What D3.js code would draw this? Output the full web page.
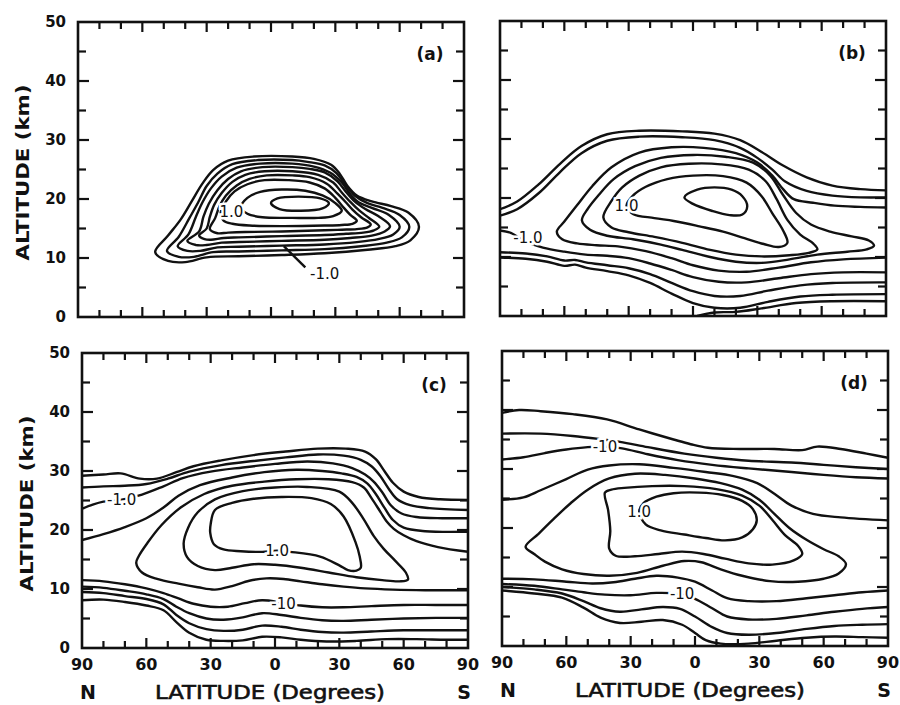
<!DOCTYPE html>
<html>
<head>
<meta charset="utf-8">
<script src="https://cdn.jsdelivr.net/npm/d3@7"></script>
<style>
  body { margin: 0; background: #fff; }
  text { font-family: "DejaVu Sans", sans-serif; font-weight: bold; fill: #111; }
</style>
</head>
<body>
<div id="chart"></div>
<script>
// axis values
const latTickLabels = [90, 60, 30, 0, -30, -60, -90];
const altTickLabels = [0, 10, 20, 30, 40, 50];
const panelNames = ["(a)", "(b)", "(c)", "(d)"];

// contours, points are [latitude (N > 0), altitude km]
// panel (a): nested closed loops
const aClosed = [
  [[54,11],[48,9.5],[40,9.3],[30,10.1],[15,10.3],[-5,10.5],[-25,10.8],[-45,11.4],[-58,12],[-65,13],[-69,15.3],[-64,17.7],[-56,18.8],[-47,19.6],[-40,20.6],[-35.5,22.3],[-32,24.3],[-28,25.8],[-20,26.8],[-10,27.2],[8,27.2],[20,26.5],[27,24.9],[32,22.6],[37,19.6],[42,16.6],[48,13.8]],
  [[48.5,11.2],[43,10.2],[36,10.2],[27,11],[15,11.1],[-5,11.3],[-25,11.5],[-42,12],[-54,12.6],[-61,13.5],[-64.5,15.3],[-60,17.3],[-52,18.5],[-45,19.3],[-39,20.6],[-34.5,22.5],[-30.5,24.4],[-25,25.7],[-17,26.3],[-10,26.6],[6,26.6],[18,25.9],[25,24.3],[30,22.2],[34,19.4],[38,16.8],[43,13.6]],
  [[43.5,12],[39,11.2],[33,11.2],[25,11.8],[15,11.9],[-5,12.1],[-25,12.3],[-40,12.7],[-50,13.2],[-57,14],[-60,15.3],[-55,17.3],[-47,18.5],[-41,19.4],[-37,20.8],[-33,22.8],[-27.5,24.5],[-20,25.5],[-10,26],[5,26],[16,25.3],[23,23.8],[28,21.8],[32,19.4],[35,17],[38.5,14]],
  [[39,12.9],[35,12.2],[30,12.2],[23,12.6],[15,12.7],[-5,12.9],[-25,13.1],[-37,13.4],[-47,13.8],[-53,14.5],[-55.5,15.4],[-50,17.1],[-44,18.3],[-39,19.6],[-35,21.2],[-31,23],[-25,24.5],[-18,25.1],[-10,25.4],[4,25.4],[14,24.7],[20,23.4],[25,21.5],[29,19.2],[31.5,17],[33.5,14.5]],
  [[33.5,13.8],[31,13.2],[28,13.1],[22,13.4],[15,13.5],[-5,13.7],[-25,13.9],[-35,14.1],[-43,14.3],[-48,14.7],[-50.5,15.3],[-46,16.7],[-41,18.1],[-37,19.5],[-33,21.1],[-29,22.8],[-22,24.1],[-10,24.7],[3,24.7],[12,24.1],[18,22.9],[23,21],[26.5,19],[28.5,17],[30,15]],
  [[28.5,14.9],[25,14.2],[20,14.3],[12,14.4],[-5,14.5],[-25,14.7],[-33,14.8],[-40,14.9],[-45,15.2],[-46.5,15.7],[-42,16.9],[-38,18.2],[-35,19.4],[-31,20.9],[-26,22.6],[-18,23.7],[-10,24],[2,24],[10,23.4],[16,22.3],[21,20.6],[24,18.8],[26,16.8]],
  [[23.5,17.6],[22,16.3],[18,15.8],[10,15.5],[-5,15.4],[-25,15.5],[-33,15.6],[-38,15.8],[-40,16.3],[-37,17.3],[-34,18.5],[-30,20.2],[-25,21.8],[-18,22.8],[-8,23.2],[3,23.2],[11,22.5],[17,21.3],[21,19.6]],
  [[14,18.6],[11,17.5],[4,16.9],[-10,16.8],[-22,16.8],[-29,17.1],[-33,18],[-30,19.3],[-24,20.6],[-16,21.4],[-5,21.6],[5,21.2],[11,20.2]],
  [[0,19.3],[-3,20.1],[-13,20.4],[-23,20.1],[-27,19.3],[-24,18.4],[-14,18],[-4,18.3]]
];
const aOpen = [];
const aLabels = [{t:"1.0", at:[18.5,17.8]}, {t:"-1.0", at:[-25,7.4]}];
const aLeaders = [[[-16,8.4],[-6,12]]];

// panel (b)
const bOpen = [
  [[90,18.1],[82,19.4],[72,22.3],[62,25.8],[52,28.8],[40,30.8],[25,31.4],[5,31.3],[-10,30.9],[-22,29.8],[-32,27.8],[-42,25.5],[-53,23.5],[-65,22.1],[-78,21.5],[-90,21.3]],
  [[90,17],[82,18.1],[72,20.8],[62,24.4],[52,27.6],[40,29.7],[25,30.4],[5,30.3],[-10,29.8],[-22,28.5],[-30,26.8],[-37,24.8],[-43,22.8],[-53,21.2],[-65,20.4],[-78,20.1],[-90,20.1]],
  [[-90,18.4],[-78,18.5],[-66,18.7],[-56,19.2],[-47,19.8],[-42,21.5],[-37,23.8],[-30,26],[-20,27.6],[-5,28.5],[10,28.6],[25,27.7],[38,25.2],[47,22],[54,18.8],[60,16],[63.5,14.3],[61,13],[54,12.3],[45,12],[35,11.8],[22,11],[10,9.8],[0,8.6],[-12,7.7],[-25,7.5],[-40,8.2],[-55,9.1],[-70,9.6],[-90,9.9]],
  [[90,14.5],[85,14.1],[78,12.6],[70,11.6],[60,10.9],[50,10.4],[40,10.2],[30,9.8],[20,8.9],[10,7.8],[0,6.6],[-12,5.8],[-25,5.7],[-40,6.4],[-55,7.1],[-70,7.4],[-90,7.4]],
  [[90,10.8],[78,10.6],[68,10.1],[60,9.4],[55,9.5],[50,9.1],[40,8.6],[30,8.1],[20,7.1],[10,5.6],[0,4.2],[-10,3.4],[-22,3.4],[-35,4.3],[-50,5.2],[-65,5.6],[-90,5.7]],
  [[90,9.9],[78,9.7],[68,9.2],[60,8.5],[55,8.7],[50,8.2],[40,7.6],[30,6.9],[20,5.6],[10,3.8],[0,2.2],[-10,1.4],[-22,1.4],[-35,2.4],[-50,3.3],[-65,3.6],[-90,3.7]],
  [[-2,0],[-10,0.6],[-20,0.7],[-32,1.3],[-48,2.2],[-65,2.5],[-90,2.5]]
];
const bClosed = [
  [[51.8,16.2],[48,14.6],[40,13.6],[28,13],[15,12.1],[5,11.2],[-8,10],[-20,9.2],[-32,9],[-45,9.6],[-58,10.4],[-72,10.9],[-81,11.3],[-84.4,11.9],[-82,12.8],[-74,13.5],[-64,14.3],[-55,15.5],[-48,17.5],[-42,20.5],[-36,23.8],[-28,26],[-15,27],[0,27.3],[15,26.8],[27,25.4],[37,23.2],[44,20.5],[49,18.2]],
  [[41.8,16.7],[38,15],[30,14.2],[18,13.4],[5,12.4],[-8,11.2],[-20,10.4],[-32,10.1],[-45,10.3],[-54,10.7],[-58,11.3],[-56,12.3],[-50,13.8],[-44,16.3],[-39,19.8],[-34,22.8],[-26,24.8],[-13,25.7],[2,25.8],[15,25.2],[25,23.8],[33,21.8],[38,19.5]],
  [[31,18.7],[28,17.3],[18,16.6],[9,16.1],[-3,15.2],[-14,14.3],[-24,13.2],[-33,12.2],[-40,11.7],[-44,12.4],[-42,14.5],[-37,17.4],[-32,20.3],[-25,22.6],[-14,23.7],[0,23.8],[12,23.2],[22,21.9],[28,20.4]],
  [[4,20.1],[-2,21.4],[-10,21.8],[-18,21.4],[-23,20.3],[-25.3,18.6],[-23,17.2],[-17,17.1],[-9,17.8],[0,19]]
];
const bLabels = [{t:"1.0", at:[31,18.7]}, {t:"-1.0", at:[77,13.3]}];
const bLeaders = [];

// panel (c)
const cOpen = [
  [[90,29.2],[80,29.4],[72,29.6],[63,28.7],[55,28.7],[46,29.8],[38,30.8],[25,31.8],[10,32.7],[-5,33.3],[-20,33.8],[-33,33.8],[-42,33.3],[-47,32],[-51,30],[-55,28],[-60,26.5],[-67,25.6],[-77,25.2],[-90,25.1]],
  [[90,27.2],[80,27.4],[70,27.5],[60,27.8],[50,28.7],[40,29.9],[25,31],[10,31.7],[-5,32.3],[-20,32.8],[-32,32.6],[-40,31.9],[-45,30.8],[-49,29.2],[-53,27],[-57,25.2],[-63,24.2],[-72,23.7],[-90,23.4]],
  [[90,23.6],[85,24.3],[80,24.8],[72,25.1],[62,26],[52,27.4],[43,28.8],[30,29.9],[15,30.6],[0,31.2],[-15,31.6],[-27,31.3],[-36,30.5],[-42,29.4],[-46,28.2],[-50,26.4],[-54,24.2],[-59,22.8],[-66,22.2],[-78,22],[-90,22]],
  [[90,18.3],[80,19.3],[70,20.5],[60,22],[52,23.8],[45,25.8],[35,27.6],[20,28.9],[5,29.8],[-10,30.2],[-22,30],[-31,29.6],[-38,29],[-43,27.9],[-47,26.1],[-51,23.8],[-55,21.7],[-60,20.4],[-70,19.8],[-90,19.7]],
  [[-90,16.3],[-76,17.1],[-66,18.1],[-60,19.1],[-55.4,20.2],[-52,21.5],[-49.3,23],[-45,25.4],[-41.4,27.2],[-36,28.1],[-25,28.6],[-10,28.6],[5,28.2],[20,27.5],[33,26.1],[44,23.8],[53,20.8],[59.5,17.8],[63.5,15.6],[64.7,14.4],[62,12.8],[55,11.7],[45,10.9],[36,10.3],[28,9.9],[20,10.5],[12,11.4],[4,11.8],[-4,11.7],[-12,11.3],[-22,10.8],[-32,10.4],[-42,10.1],[-55,9.9],[-70,9.8],[-90,9.8]],
  [[90,11.5],[80,11.3],[70,10.8],[60,10.1],[52,9.3],[45,8.4],[38,7.5],[30,7],[22,7],[14,7.6],[6,8.1],[-3,7.7],[-12,7.2],[-22,6.9],[-32,6.9],[-45,7.1],[-60,7.3],[-75,7.3],[-90,7.3]],
  [[90,10.4],[80,10.2],[70,9.7],[60,9.1],[52,8.3],[46,7],[40,5.9],[32,5],[24,4.8],[15,5.2],[6,5.9],[-3,5.6],[-12,5.1],[-22,4.7],[-32,4.6],[-45,4.8],[-60,5],[-75,5.1],[-90,5.1]],
  [[90,9.5],[80,9.3],[70,8.8],[60,8.3],[52,7.4],[46,5.6],[40,4.2],[32,3.2],[24,2.9],[15,3.1],[6,3.8],[-3,3.6],[-12,3.1],[-22,2.7],[-32,2.6],[-45,2.8],[-60,3],[-75,3],[-90,3]],
  [[90,8.1],[80,8.2],[70,7.8],[60,7.2],[52,6.4],[46,4.4],[40,2.6],[32,1.4],[24,1.2],[15,1.3],[6,1.9],[-3,1.8],[-12,1.4],[-24,1.1],[-38,1.2],[-52,1.5],[-66,1.5],[-80,1.4],[-90,1.4]]
];
const cClosed = [
  [[42.6,17.7],[41,15.4],[36,13.9],[28,13.2],[20,13.6],[10,14.2],[0,14.1],[-12,13.6],[-25,12.8],[-38,12],[-50,11.5],[-58,11.3],[-62,11.6],[-61,12.8],[-56,14.8],[-50.7,16.8],[-46,19],[-41.4,21.8],[-36,24.6],[-30,26.5],[-15,27.3],[0,27.2],[15,26.6],[28,25.2],[36,23],[40.5,20.4]],
  [[28,23.4],[30,21],[30.2,19.5],[28.5,17.6],[24,16.7],[16,16.4],[6,16.3],[-1,16.5],[-7,16.3],[-21,15.5],[-30,14],[-34,13.2],[-38,13.1],[-40,13.6],[-39.5,15.5],[-37.5,18],[-32,22.3],[-26,24.4],[-17,25.4],[-3,25.6],[10,25.3],[20,24.6]]
];
const cLabels = [{t:"-1.0", at:[71.5,25.1]}, {t:"1.0", at:[-1,16.5]}, {t:"-10", at:[-4,7.6]}];
const cLeaders = [];

// panel (d)
const dOpen = [
  [[90,39.5],[82,40],[72,39.8],[57,39.3],[41,38.4],[26,36.7],[10,35],[2,34.2],[-6,33.6],[-21,33.4],[-37,33.4],[-50,33.2],[-57,33.8],[-68,33.4],[-80,32.6],[-90,31.9]],
  [[90,36],[72,36],[57,35.6],[45,35.1],[35,34.6],[22,33.7],[5,32.6],[-10,31.9],[-25,31.4],[-45,31.1],[-60,30.7],[-75,30.3],[-90,30]],
  [[90,31.6],[80,32],[70,32.7],[60,33.3],[50,33.7],[42,33.8],[34,33.5],[22,32.5],[8,31.5],[-8,30.7],[-25,30.1],[-45,29.5],[-60,29],[-75,28.6],[-90,28.4]],
  [[90,24.8],[80,25.2],[72,26.4],[60,28.3],[50,29.9],[40,30.6],[26,30.8],[10,30.2],[-5,29.5],[-18,28.8],[-29,27.6],[-37,25.8],[-45,23.8],[-55,22.4],[-68,21.8],[-90,21.3]],
  [[90,11.4],[75,11.3],[60,10.9],[48,10.6],[38,10.8],[28,11.4],[18,11.9],[8,11.6],[0,10.9],[-8,9.4],[-15,8.1],[-25,7.6],[-38,7.6],[-52,8.1],[-65,8.6],[-78,9.1],[-90,9.4]],
  [[90,10.5],[75,10.2],[62,9.6],[52,9.1],[42,8.7],[30,8.6],[18,9],[7,8.8],[0,8],[-8,6.4],[-15,5],[-25,4.5],[-38,4.6],[-52,5.2],[-65,5.8],[-78,6.3],[-90,6.6]],
  [[90,10],[75,9.6],[62,8.9],[52,7.6],[44,6.4],[35,5.8],[25,6.2],[15,6.6],[7,6.3],[0,5],[-8,3.2],[-15,2.2],[-25,1.9],[-38,2.2],[-52,2.9],[-65,3.4],[-78,3.6],[-90,3.7]],
  [[90,9.4],[75,8.9],[62,8.2],[52,6.5],[44,4.8],[35,3.9],[25,4.1],[15,4.4],[6,3.6],[0,2.2],[-5,1],[-12,0.4],[-25,0.4],[-38,0.9],[-52,1.4],[-65,1.6],[-78,1.5],[-90,1.4]]
];
const dClosed = [
  [[79,16.8],[73,19],[66,21.5],[58,24.2],[50,26.5],[40,28.4],[28,29.2],[14,29],[0,28.4],[-12,27.6],[-22,26.5],[-30,24.8],[-37,22.4],[-44,20],[-52,18],[-60,16.4],[-67,15.2],[-70.4,13.9],[-67,12.3],[-60,11.4],[-48,10.9],[-35,11],[-22,11.9],[-12,13],[-3,14.2],[5,14.4],[15,13.6],[27,12.4],[40,11.9],[52,12.2],[62,13],[70,14.3],[75,15.6]],
  [[42,26],[40.5,23],[39.5,19.5],[40,16.5],[37,15.3],[28,15.2],[17,15.6],[6,16],[-4,15.6],[-14,14.8],[-25,14],[-36,13.8],[-46,14.5],[-50,15.6],[-48,17],[-42,18.8],[-36,21.4],[-30,23.8],[-22,25.5],[-10,26.6],[5,27.1],[20,27.1],[33,26.8],[39,26.5]],
  [[26,22.8],[23,20.6],[16,19.6],[5,18.9],[-5,18.3],[-14,17.9],[-22,18.4],[-27,19.8],[-28.8,21.3],[-27,23.2],[-22,24.6],[-13,25.6],[-2,26],[10,25.9],[18,25.3],[24,24.2]]
];
const dLabels = [{t:"-10", at:[42,33.8]}, {t:"1.0", at:[26,22.8]}, {t:"-10", at:[6,8.8]}];
const dLeaders = [];

// layout
const W = 900, H = 705;
const pw = 386, ph = 295;
const panels = [
  {name: panelNames[0], x0: 78,  y0: 22,  open: aOpen, closed: aClosed, labels: aLabels, leaders: aLeaders, left: true,  bottom: false},
  {name: panelNames[1], x0: 500, y0: 21,  open: bOpen, closed: bClosed, labels: bLabels, leaders: bLeaders, left: false, bottom: false},
  {name: panelNames[2], x0: 82,  y0: 353, open: cOpen, closed: cClosed, labels: cLabels, leaders: cLeaders, left: true,  bottom: true},
  {name: panelNames[3], x0: 502, y0: 351, open: dOpen, closed: dClosed, labels: dLabels, leaders: dLeaders, left: false, bottom: true}
];

const svg = d3.select("#chart")
  .append("svg")
  .attr("width", W)
  .attr("height", H)
  .attr("viewBox", `0 0 ${W} ${H}`);

svg.append("rect").attr("width", W).attr("height", H).attr("fill", "#fff");

const x = d3.scaleLinear().domain([90, -90]).range([0, pw]);
const y = d3.scaleLinear().domain([0, 50]).range([ph, 0]);

const openLine = d3.line()
  .x(d => x(d[0]))
  .y(d => y(d[1]))
  .curve(d3.curveCatmullRom.alpha(0.5));
const closedLine = d3.line()
  .x(d => x(d[0]))
  .y(d => y(d[1]))
  .curve(d3.curveCatmullRomClosed.alpha(0.5));

drawPanel = (p, i) => {
  const g = svg.append("g").attr("transform", `translate(${p.x0},${p.y0})`);

  g.append("clipPath").attr("id", "clip" + i)
    .append("rect").attr("width", pw).attr("height", ph);

  const body = g.append("g").attr("clip-path", `url(#clip${i})`);

  body.selectAll(".open")
    .data(p.open)
    .enter()
    .append("path")
    .attr("d", openLine)
    .attr("fill", "none")
    .attr("stroke", "#111")
    .attr("stroke-width", 2.4)
    .attr("stroke-linejoin", "round");

  body.selectAll(".closed")
    .data(p.closed)
    .enter()
    .append("path")
    .attr("d", closedLine)
    .attr("fill", "none")
    .attr("stroke", "#111")
    .attr("stroke-width", 2.4)
    .attr("stroke-linejoin", "round");

  body.selectAll(".leader")
    .data(p.leaders)
    .enter()
    .append("path")
    .attr("d", d3.line().x(d => x(d[0])).y(d => y(d[1])))
    .attr("fill", "none")
    .attr("stroke", "#111")
    .attr("stroke-width", 2.4);

  // contour labels, white halo breaks the line under them
  body.selectAll(".clabel")
    .data(p.labels)
    .enter()
    .append("text")
    .attr("x", d => x(d.at[0]))
    .attr("y", d => y(d.at[1]))
    .attr("dy", "0.36em")
    .attr("text-anchor", "middle")
    .style("font-size", "15px")
    .style("font-weight", "normal")
    .style("stroke", "#fff")
    .style("stroke-width", 5)
    .style("paint-order", "stroke")
    .text(d => d.t);

  // frame
  g.append("rect")
    .attr("width", pw)
    .attr("height", ph)
    .attr("fill", "none")
    .attr("stroke", "#111")
    .attr("stroke-width", 2.6);

  // inward ticks
  const latMinor = d3.range(-80, 90, 10);
  const altMinor = d3.range(5, 50, 5);
  const tk = g.append("g").attr("stroke", "#111").attr("stroke-width", 2.2);
  latMinor.forEach(v => {
    const len = v % 30 === 0 ? 10 : 7;
    tk.append("line").attr("x1", x(v)).attr("x2", x(v)).attr("y1", 0).attr("y2", len);
    tk.append("line").attr("x1", x(v)).attr("x2", x(v)).attr("y1", ph).attr("y2", ph - len);
  });
  altMinor.forEach(v => {
    const len = v % 10 === 0 ? 11 : 8;
    tk.append("line").attr("x1", 0).attr("x2", len).attr("y1", y(v)).attr("y2", y(v));
    tk.append("line").attr("x1", pw).attr("x2", pw - len).attr("y1", y(v)).attr("y2", y(v));
  });

  // panel tag
  g.append("text")
    .attr("x", pw - 34)
    .attr("y", 38)
    .attr("text-anchor", "middle")
    .style("font-size", "17px")
    .text(p.name);

  if (p.left) {
    g.selectAll(".ylab")
      .data(altTickLabels)
      .enter()
      .append("text")
      .attr("x", -12)
      .attr("y", d => y(d))
      .attr("dy", "0.36em")
      .attr("text-anchor", "end")
      .style("font-size", "15px")
      .text(d => d);

    g.append("text")
      .attr("transform", `translate(${-55},${ph / 2 + 3}) rotate(-90)`)
      .attr("text-anchor", "middle")
      .attr("dy", "0.36em")
      .attr("textLength", 176)
      .attr("lengthAdjust", "spacingAndGlyphs")
      .style("font-size", "18px")
      .text("ALTITUDE (km)");
  }

  if (p.bottom) {
    g.selectAll(".xlab")
      .data(latTickLabels)
      .enter()
      .append("text")
      .attr("x", d => x(d))
      .attr("y", ph + 22)
      .attr("text-anchor", "middle")
      .style("font-size", "16px")
      .text(d => Math.abs(d));

    g.append("text")
      .attr("x", x(0) - 5)
      .attr("y", ph + 51)
      .attr("text-anchor", "middle")
      .attr("textLength", 230)
      .attr("lengthAdjust", "spacingAndGlyphs")
      .style("font-size", "19px")
      .style("font-weight", "normal")
      .style("stroke", "#111")
      .style("stroke-width", 0.6)
      .text("LATITUDE (Degrees)");

    g.append("text")
      .attr("x", x(90) + 6)
      .attr("y", ph + 51)
      .attr("text-anchor", "middle")
      .style("font-size", "19px")
      .text("N");

    g.append("text")
      .attr("x", x(-90) - 4)
      .attr("y", ph + 51)
      .attr("text-anchor", "middle")
      .style("font-size", "19px")
      .text("S");
  }
}

panels.forEach((p, i) => drawPanel(p, i));
</script>
</body>
</html>
